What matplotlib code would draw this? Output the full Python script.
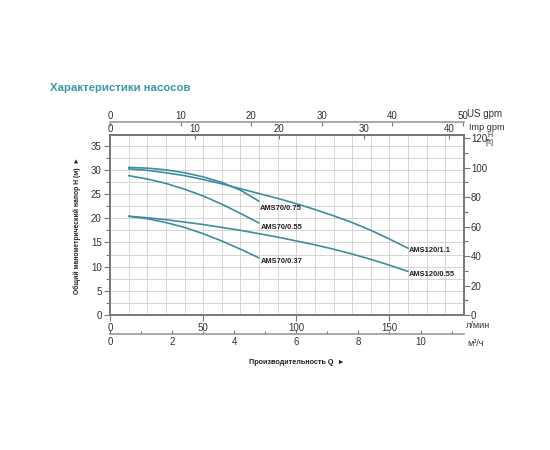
import matplotlib
matplotlib.use("Agg")
import matplotlib.pyplot as plt
from matplotlib.ticker import MultipleLocator

# flow in l/min, head in m
q_ams70 = [10, 20, 30, 40, 50, 60, 70, 80]
h_ams70_075 = [30.5, 30.35, 30.0, 29.4, 28.55, 27.4, 25.8, 23.5]
h_ams70_055 = [28.8, 28.1, 27.2, 26.0, 24.6, 22.9, 21.0, 19.0]
h_ams70_037 = [20.4, 19.9, 19.1, 18.1, 16.8, 15.3, 13.6, 11.8]

q_ams120 = [10, 20, 30, 40, 50, 60, 70, 80, 90, 100, 110, 120, 130, 140, 150, 160]
h_ams120_11 = [30.2, 29.9, 29.4, 28.8, 28.0, 27.1, 26.1, 25.1, 24.1, 23.0,
               21.8, 20.5, 19.1, 17.5, 15.7, 13.8]
h_ams120_055 = [20.4, 20.1, 19.7, 19.2, 18.7, 18.1, 17.5, 16.8, 16.1, 15.3,
                14.5, 13.6, 12.6, 11.5, 10.3, 9.0]

curves = [
    ("AMS70/0.75", q_ams70, h_ams70_075),
    ("AMS70/0.55", q_ams70, h_ams70_055),
    ("AMS70/0.37", q_ams70, h_ams70_037),
    ("AMS120/1.1", q_ams120, h_ams120_11),
    ("AMS120/0.55", q_ams120, h_ams120_055),
]
# label offsets from curve end, in pixels
label_offsets = {
    "AMS70/0.75": (1, -7),
    "AMS70/0.55": (2, -4),
    "AMS70/0.37": (2, -4),
    "AMS120/1.1": (1, -2),
    "AMS120/0.55": (1, -3),
}

W, H = 550, 450
LPM_PER_M3H = 1000 / 60
LPM_PER_USGPM = 3.78541
LPM_PER_IMPGPM = 4.54609
FT_PER_M = 3.28084

axis_col = "#777777"
txt_col = "#333333"
curve_col = "#3f8d9e"

plt.rcParams["font.family"] = ["Liberation Sans", "DejaVu Sans"]


def fx(px):
    return px / W


def fy(py):
    return 1 - py / H


fig = plt.figure(figsize=(5.5, 4.5), dpi=100)
ax = fig.add_axes([fx(110), fy(315), fx(464) - fx(110), fy(135) - fy(315)])

ax.set_xlim(0, 190)
ax.set_ylim(0, 37.2)

# grid
ax.xaxis.set_minor_locator(MultipleLocator(10))
ax.yaxis.set_minor_locator(MultipleLocator(2.5))
ax.grid(which="both", color="#cfcfcf", linewidth=0.6)
ax.set_axisbelow(True)

for name, q, h in curves:
    ax.plot(q, h, color=curve_col, linewidth=1.2, solid_capstyle="round",
            solid_joinstyle="round")
    ax.annotate(name, xy=(q[-1], h[-1]), xytext=label_offsets[name],
                textcoords="offset pixels", ha="left", va="center",
                fontsize=5.4, fontweight="bold", color="#222222")

for s in ax.spines.values():
    s.set_color(axis_col)
    s.set_linewidth(1.4)

ax.set_xticks([0, 50, 100, 150])
ax.set_yticks(range(0, 36, 5))
ax.tick_params(which="major", direction="out", length=4, width=0.8,
               color=axis_col, labelsize=7, labelcolor=txt_col, pad=2)
ax.tick_params(axis="x", which="minor", length=0)
ax.tick_params(axis="y", which="minor", direction="out", length=3,
               width=0.8, color=axis_col)

# right axis, head in ft
axr = ax.twinx()
axr.set_ylim(0, 37.2 * FT_PER_M)
axr.set_yticks(range(0, 121, 20))
axr.yaxis.set_minor_locator(MultipleLocator(10))
axr.tick_params(which="major", direction="out", length=4, width=0.8,
                color=axis_col, labelsize=7, labelcolor=txt_col, pad=1)
axr.tick_params(which="minor", direction="out", length=3, width=0.8,
                color=axis_col)
for s in axr.spines.values():
    s.set_visible(False)

# top axes: Imp gpm on the frame, US gpm above
imp = ax.secondary_xaxis("top", functions=(lambda x: x / LPM_PER_IMPGPM,
                                           lambda x: x * LPM_PER_IMPGPM))
imp.set_xticks(range(0, 41, 10))
imp.tick_params(direction="in", length=3, width=0.8, color=axis_col,
                labelsize=7, labelcolor=txt_col, pad=1)
imp.spines["top"].set_color(axis_col)
imp.spines["top"].set_linewidth(1.4)

us = ax.secondary_xaxis((315 - 122) / 180,
                        functions=(lambda x: x / LPM_PER_USGPM,
                                   lambda x: x * LPM_PER_USGPM))
us.set_xticks(range(0, 51, 10))
us.tick_params(direction="in", length=3, width=0.8, color=axis_col,
               labelsize=7, labelcolor=txt_col, pad=1)
us.spines["top"].set_color("#999999")
us.spines["top"].set_linewidth(1.2)

# bottom axis in m3/h
m3h = ax.secondary_xaxis((315 - 334) / 180,
                         functions=(lambda x: x / LPM_PER_M3H,
                                    lambda x: x * LPM_PER_M3H))
m3h.set_xticks(range(0, 11, 2))
m3h.xaxis.set_minor_locator(MultipleLocator(1))
m3h.tick_params(which="major", direction="in", length=3, width=0.8,
                color=axis_col, labelsize=7, labelcolor=txt_col, pad=2)
m3h.tick_params(which="minor", direction="in", length=2, width=0.8,
                color=axis_col)
m3h.spines["bottom"].set_color("#999999")
m3h.spines["bottom"].set_linewidth(1.2)

# unit labels and titles
fig.text(fx(467), fy(114), "US gpm", fontsize=7, color=txt_col,
         ha="left", va="center")
fig.text(fx(469), fy(128), "Imp gpm", fontsize=6.6, color=txt_col,
         ha="left", va="center")
fig.text(fx(490), fy(139), "H\n[ft]", fontsize=5, color=txt_col,
         ha="center", va="center", linespacing=0.9)
fig.text(fx(466), fy(325), "л/мин", fontsize=6.6, color=txt_col,
         ha="left", va="center")
fig.text(fx(467), fy(344), "м³/ч", fontsize=6.6, color=txt_col,
         ha="left", va="center")
fig.text(fx(297), fy(362), "Производительность Q  ►", fontsize=5.2,
         fontweight="bold", color="#222222", ha="center", va="center")
fig.text(fx(77), fy(226), "Общий манометрический напор H (м)  ►",
         fontsize=4.9, fontweight="bold", color="#222222", rotation=90,
         ha="center", va="center")
fig.text(fx(50), fy(88), "Характеристики насосов", fontsize=8.2,
         fontweight="bold", color="#3d98aa", ha="left", va="center")

fig.savefig("out.png", dpi=100)
